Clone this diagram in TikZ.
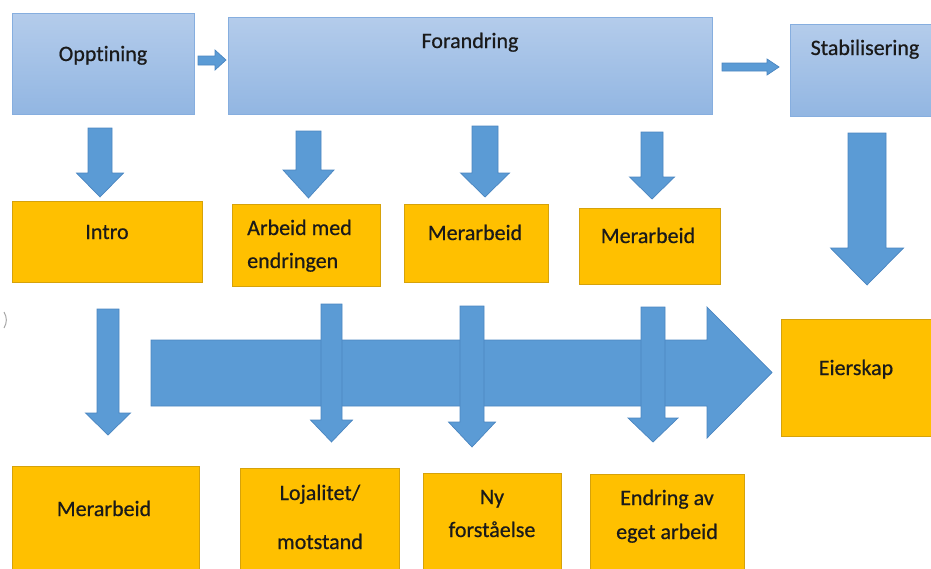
\documentclass[tikz,border=0pt]{standalone}
\usepackage{fontspec}
\setmainfont[Ligatures=NoCommon, FakeBold=0.6]{Carlito}
\definecolor{arrowblue}{HTML}{5B9BD5}
\definecolor{arrowedge}{HTML}{4A85C0}
\definecolor{boxtop}{HTML}{B4CCEB}
\definecolor{boxbottom}{HTML}{92B6E2}
\definecolor{boxedge}{HTML}{86AEDF}
\definecolor{amber}{HTML}{FFC000}
\definecolor{amberedge}{HTML}{D6A20A}
\definecolor{inktext}{HTML}{1A1A1A}
\tikzset{
  bluebox/.style={draw=boxedge, line width=1pt, top color=boxtop, bottom color=boxbottom, inner sep=0pt},
  amberbox/.style={draw=amberedge, line width=0.8pt, fill=amber, inner sep=0pt},
  lbl/.style={text=inktext, font=\fontsize{22}{26}\selectfont, inner sep=0pt, anchor=base},
  barrow/.style={fill=arrowblue, draw=arrowedge, line width=0.7pt, line join=miter},
}
% block arrow pointing down: centre x, half shaft width, top y, head start y, half head width, tip y
\newcommand{\blockdown}[6]{%
  \draw[barrow] ({#1-#2},#3) -- ({#1+#2},#3) -- ({#1+#2},#4) -- ({#1+#5},#4)
    -- (#1,#6) -- ({#1-#5},#4) -- ({#1-#2},#4) -- cycle;}
% block arrow pointing right: left x, shaft top y, shaft bottom y, head start x, head top y, head bottom y, tip x
\newcommand{\blockright}[7]{%
  \draw[barrow] (#1,#2) -- (#4,#2) -- (#4,#5) -- (#7,{(#5+#6)/2}) -- (#4,#6)
    -- (#4,#3) -- (#1,#3) -- cycle;}
\begin{document}
\begin{tikzpicture}[x=1pt, y=-1pt]
\clip (0,0) rectangle (931,568);
\useasboundingbox (0,0) rectangle (931,568);

% phase boxes
\node[bluebox, minimum width=182pt, minimum height=101pt] (opp) at (103,63.5) {};
\node[bluebox, minimum width=484pt, minimum height=97pt] (for) at (470,65.5) {};
\node[bluebox, minimum width=146pt, minimum height=92pt] (stab) at (863,70) {};
\node[lbl] (opp-t) at (103,61) {Opptining};
\node[lbl] (for-t) at (470,48) {Forandring};
\node[lbl] (stab-t) at (865,55) {Stabilisering};

% connectors between phases
\blockright{198}{56}{65}{215}{50}{70}{226}
\blockright{722}{63}{71}{767}{59}{75}{779}

% first row of activity boxes
\node[amberbox, minimum width=190pt, minimum height=81pt] (intro) at (107,241.5) {};
\node[amberbox, minimum width=148pt, minimum height=82pt] (arb) at (306,245) {};
\node[amberbox, minimum width=144pt, minimum height=78pt] (mer1) at (476,243) {};
\node[amberbox, minimum width=141pt, minimum height=76pt] (mer2) at (649.5,246) {};
\node[lbl] (intro-t) at (107,239) {Intro};
\node[lbl, anchor=base west] (arb-t1) at (247,235) {Arbeid med};
\node[lbl, anchor=base west] (arb-t2) at (247,268) {endringen};
\node[lbl] (mer1-t) at (475,240) {Merarbeid};
\node[lbl] (mer2-t) at (648,243) {Merarbeid};

% arrows from phases down to activities
\blockdown{100}{12}{128}{173}{23.5}{197}
\blockdown{308.5}{12.5}{131}{170}{25.5}{198}
\blockdown{485}{13}{126}{173}{24.5}{197}
\blockdown{652}{11}{132}{177}{22.5}{199}
\blockdown{867}{19}{133}{248}{36.5}{285}

% main flow towards ownership
\blockright{151}{340}{406}{707}{307}{438}{772}
\node[amberbox, minimum width=154pt, minimum height=117pt] (eier) at (858,377.5) {};
\node[lbl] (eier-t) at (856,375) {Eierskap};

% arrows from activities down to outcomes
\blockdown{108}{11}{309}{413}{22.5}{435}
\blockdown{331.5}{10.5}{304}{420}{21}{442}
\blockdown{472}{12}{306}{422}{23.5}{447}
\blockdown{653}{12}{307}{418}{25}{442}

% outcome boxes
\node[amberbox, minimum width=187pt, minimum height=110pt] (mer3) at (105.5,521) {};
\node[amberbox, minimum width=159pt, minimum height=108pt] (loj) at (319.5,522) {};
\node[amberbox, minimum width=138pt, minimum height=103pt] (ny) at (492,524.5) {};
\node[amberbox, minimum width=154pt, minimum height=102pt] (endr) at (667,525) {};
\node[lbl] (mer3-t) at (104,516) {Merarbeid};
\node[lbl] (loj-t1) at (320,500) {Lojalitet/};
\node[lbl] (loj-t2) at (320,549) {motstand};
\node[lbl] (ny-t1) at (492,504) {Ny};
\node[lbl] (ny-t2) at (492,537) {forståelse};
\node[lbl] (endr-t1) at (667,505) {Endring av};
\node[lbl] (endr-t2) at (667,539) {eget arbeid};

% small stray mark at the left edge
\draw[gray!70, line width=1pt] (4,312) to[bend left=30] (4,328);
\end{tikzpicture}
\end{document}
